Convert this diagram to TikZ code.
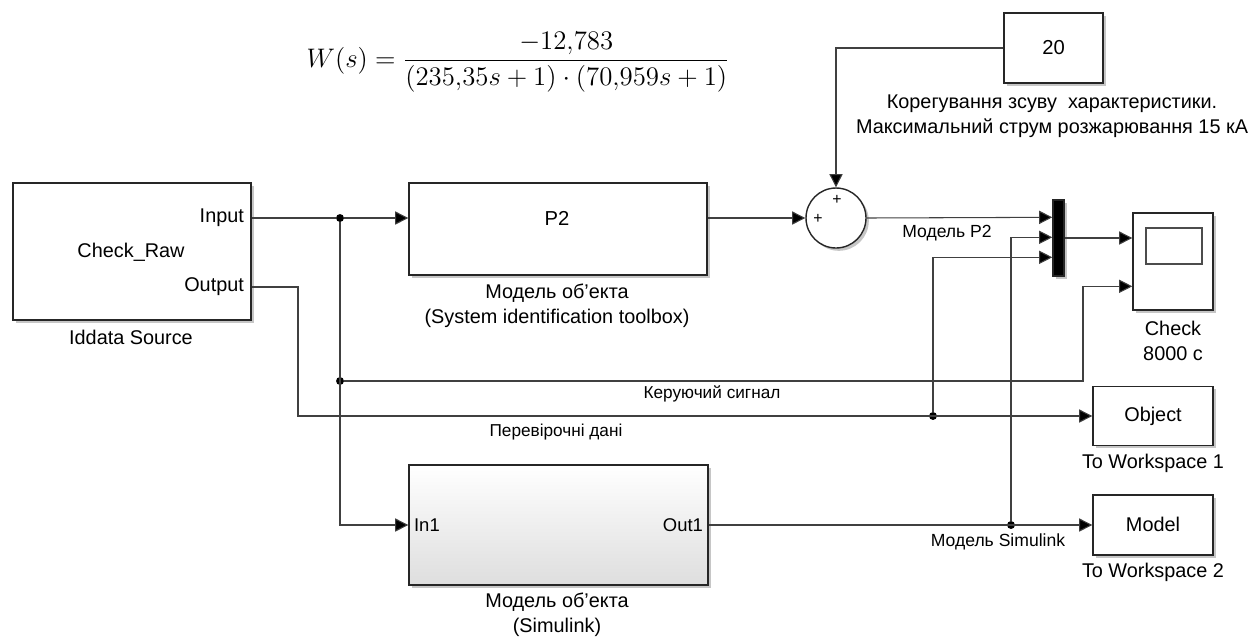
\documentclass[tikz,border=0pt]{standalone}
\usepackage{amsmath}
\usepackage{fontspec}
\setmainfont{Liberation Sans}
\usetikzlibrary{arrows.meta,positioning,calc,shadows}
\newcommand{\apos}{\char"0027\relax}

\begin{document}
\begin{tikzpicture}[x=0.02cm,y=-0.02cm,
  blk/.style={draw=black!85,fill=white,line width=0.8pt,inner sep=0pt,
    drop shadow={shadow xshift=1.6pt,shadow yshift=-1.6pt,opacity=0.45}},
  sig/.style={draw=black!75,line width=0.6pt},
  arr/.style={sig,-{Triangle[length=7.5pt,width=7.5pt,fill=black]}},
  txt/.style={font=\fontsize{11.3}{14}\selectfont,align=center,inner sep=1pt},
  sml/.style={font=\fontsize{10}{12}\selectfont,inner sep=1pt},
  dot/.style={circle,fill=black,inner sep=0pt,minimum size=4.5pt}]
  \useasboundingbox (0,0) rectangle (1250,637);

  % transfer function
  \node[font=\fontsize{14.4}{17}\selectfont] (eq) at (518,62)
    {\scalebox{1.06}{$W(s)=\dfrac{-12{,}783}{(235{,}35s+1)\cdot(70{,}959s+1)}$}};

  % blocks
  \node[blk,minimum width=4.76cm,minimum height=2.74cm] (src) at (132,251.5) {};
  \node[txt,anchor=east] (inp) at (246,218) {Input};
  \node[txt,anchor=east] (outp) at (246,287) {Output};
  \node[txt] (raw) at (131,252) {Check\_Raw};
  \node[txt] (srcl) at (131,337) {Iddata Source};

  \node[blk,minimum width=5.96cm,minimum height=1.84cm] (p2) at (558,229) {};
  \node[txt,font=\fontsize{11.5}{14}\selectfont] (p2t) at (557,218) {P2};
  \node[txt] (p2l) at (557,306) {Модель об\apos екта\\(System identification toolbox)};

  \node[blk,minimum width=5.98cm,minimum height=2.4cm,top color=white,bottom color=black!13] (sim) at (558.5,525) {};
  \node[txt,anchor=west,font=\fontsize{10.5}{12}\selectfont] (in1) at (412,525) {In1};
  \node[txt,anchor=east,font=\fontsize{10.5}{12}\selectfont] (out1) at (705,525) {Out1};
  \node[txt] (siml) at (557,615) {Модель об\apos екта\\(Simulink)};

  \node[blk,circle,minimum size=1.2cm] (sum) at (836,218) {};
  \node[sml,font=\fontsize{9}{10}\selectfont] (pl1) at (837,200) {+};
  \node[sml,font=\fontsize{9}{10}\selectfont] (pl2) at (818,219) {+};

  \node[blk,minimum width=1.98cm,minimum height=1.4cm] (cst) at (1053.5,48) {};
  \node[txt,font=\fontsize{11.5}{14}\selectfont] (cstt) at (1053.5,48) {20};
  \node[txt] (cstl) at (1052,116) {Корегування зсуву\ \ характеристики.\\Максимальний струм розжарювання 15 кА};

  \node[blk,fill=black,minimum width=0.22cm,minimum height=1.52cm] (mux) at (1058.5,238) {};
  \coordinate (m1) at ($(mux.north west)+(0,18)$);
  \coordinate (m2) at ($(mux.north west)+(0,38)$);
  \coordinate (m3) at ($(mux.north west)+(0,58)$);

  \node[blk,minimum width=1.6cm,minimum height=1.94cm] (scope) at (1173,261.5) {};
  \node[draw=black!70,line width=0.6pt,minimum width=1.12cm,minimum height=0.72cm,inner sep=0pt] (scr) at (1174,246) {};
  \coordinate (sc2) at ($(scope.north west)+(0,74)$);
  \node[txt] (scl) at (1173,341) {Check\\8000 с};

  \node[blk,minimum width=2.4cm,minimum height=1.18cm] (obj) at (1153,416) {};
  \node[txt] (objt) at (1153,416) {Object};
  \node[txt] (objl) at (1153,463) {To Workspace 1};

  \node[blk,minimum width=2.4cm,minimum height=1.2cm] (mdl) at (1153,525) {};
  \node[txt] (mdlt) at (1153,524) {Model};
  \node[txt] (mdll) at (1153,572) {To Workspace 2};

  % junctions
  \node[dot] (j1) at (340,218) {};
  \node[dot] (j2) at (340,381) {};
  \node[dot] (j3) at (933,416) {};
  \node[dot] (j4) at (1011,525) {};
  \coordinate (k1) at (1083,381);
  \coordinate (k2) at (298,416);

  % signals
  \draw[sig] (src.east |- j1) -- (j1);
  \draw[arr] (j1) -- (p2.west |- j1);
  \draw[arr] (j1) |- (sim.west);
  \draw[arr] (j2) -- (k1) |- (sc2);
  \draw[arr] (outp.east -| src.east) -| (k2) -- (obj.west);
  \draw[arr] (p2.east |- j1) -- (sum.west);
  \draw[arr] (cst.west) -| (sum.north);
  \draw[arr] (sum.east) -- (m1);
  \draw[arr] (j4) |- (m2);
  \draw[arr] (j3) |- (m3);
  \draw[arr] (mux.east) -- (mux.east -| scope.west);
  \draw[arr] (sim.east) -- (mdl.west);

  % signal names
  \node[sml] (lp2) at (947,233) {Модель P2};
  \node[sml] (lsim) at (998,542) {Модель Simulink};
  \node[sml,font=\fontsize{9.8}{12}\selectfont] (lctl) at (712,394) {Керуючий сигнал};
  \node[sml,font=\fontsize{9.8}{12}\selectfont] (ldat) at (556,432) {Перевірочні дані};
\end{tikzpicture}
\end{document}
